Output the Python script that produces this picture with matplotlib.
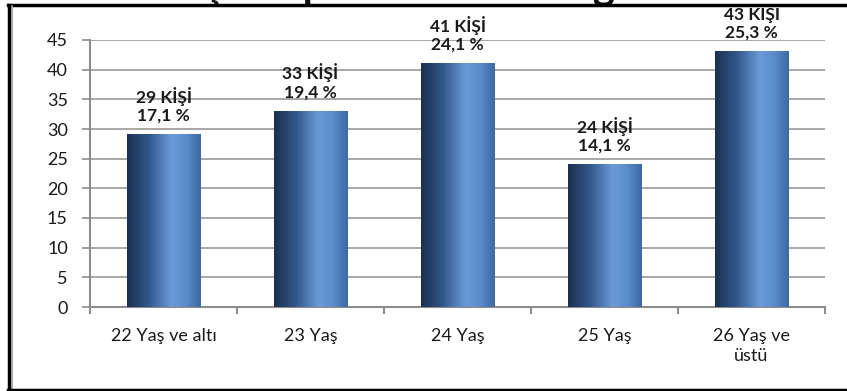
import matplotlib
matplotlib.use("Agg")
import matplotlib.pyplot as plt
import numpy as np
from matplotlib.colors import LinearSegmentedColormap
from matplotlib.lines import Line2D

categories = ["22 Yaş ve altı", "23 Yaş", "24 Yaş", "25 Yaş", "26 Yaş ve\nüstü"]
values = [29, 33, 41, 24, 43]
percents = ["17,1 %", "19,4 %", "24,1 %", "14,1 %", "25,3 %"]
counts_label = ["29 KİŞİ", "33 KİŞİ", "41 KİŞİ", "24 KİŞİ", "43 KİŞİ"]
yticks = [0, 5, 10, 15, 20, 25, 30, 35, 40, 45]
title = "Yaş Gruplarına Göre Dağılım"

W, H = 847, 391
fig = plt.figure(figsize=(W / 100, H / 100), dpi=100)
fig.patch.set_facecolor("white")
ax = fig.add_axes([90 / W, 1 - 307 / H, (825 - 90) / W, (307 - 40) / H])

x = np.arange(len(values))
bars = ax.bar(x, values, width=0.5, color="none", edgecolor="none", zorder=3)

cmap = LinearSegmentedColormap.from_list(
    "g", [(0.0, "#1c3050"), (0.3, "#33588c"), (0.6, "#6a9ad6"),
          (0.8, "#5c8ccb"), (1.0, "#3d68a3")])
grad = np.linspace(0, 1, 256).reshape(1, -1)
for b in bars:
    x0, y0 = b.get_x(), b.get_y()
    w, h = b.get_width(), b.get_height()
    ax.imshow(grad, cmap=cmap, aspect="auto", extent=(x0, x0 + w, y0, y0 + h),
              zorder=3, interpolation="bicubic")

for b, c, p in zip(bars, counts_label, percents):
    ax.annotate(c + "\n" + p, (b.get_x() + b.get_width() / 2, b.get_height()),
                xytext=(0, 8), textcoords="offset points", ha="center", va="bottom",
                fontsize=12.5, fontweight="bold", family="Lato", color="#1a1a1a",
                linespacing=1.15, zorder=5, annotation_clip=False)

ax.set_xlim(-0.5, len(values) - 0.5)
ax.set_ylim(0, 45)
ax.set_yticks(yticks)
ax.set_yticklabels([str(v) for v in yticks], family="Lato", fontsize=13, color="#1a1a1a")
ax.set_xticks(x)
ax.set_xticklabels(categories, family="Lato", fontsize=13, color="#1a1a1a", linespacing=1.3)
ax.set_xticks(np.arange(len(values) + 1) - 0.5, minor=True)
ax.tick_params(axis="x", which="major", length=0, pad=15)
ax.tick_params(axis="x", which="minor", length=5, width=1.5, color="#8c8c8c")
ax.tick_params(axis="y", length=6, width=1.2, color="#8c8c8c", pad=10)
ax.yaxis.grid(True, color="#a0a0a0", linewidth=1.3, zorder=0)
ax.set_axisbelow(True)
for s in ["top", "right"]:
    ax.spines[s].set_visible(False)
for s in ["left", "bottom"]:
    ax.spines[s].set_color("#8c8c8c")
    ax.spines[s].set_linewidth(1.5)

# title, mostly cut off by the top edge (only descenders visible)
fig.text(0.495, 1 + 1 / H, title, ha="center", va="baseline", fontsize=30,
         fontweight="bold", family="Lato", color="#111111")

# frame
fig.add_artist(Line2D([8 / W, 1.0], [1 - 5 / H, 1 - 5 / H], color="black", lw=2.5, zorder=10))
fig.add_artist(Line2D([9 / W, 9 / W], [1 - 5 / H, 1 - 390 / H], color="black", lw=2.5, zorder=10))
fig.add_artist(Line2D([12 / W, 12 / W], [1 - 6 / H, 1 - 389 / H], color="#9a9a9a", lw=1.2, zorder=10))
fig.add_artist(Line2D([8 / W, 1.0], [1 - 390 / H, 1 - 390 / H], color="black", lw=2.5, zorder=10))

fig.savefig("out.png", dpi=100)
